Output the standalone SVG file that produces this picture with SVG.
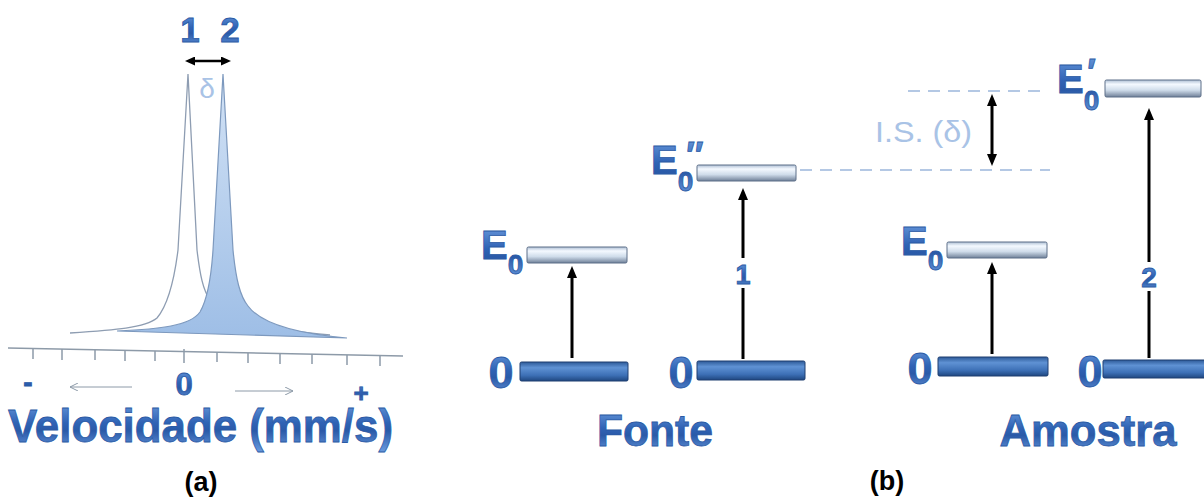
<svg xmlns="http://www.w3.org/2000/svg" width="1204" height="500" viewBox="0 0 1204 500">
<defs>
<linearGradient id="tg" x1="0" y1="0" x2="0" y2="1">
<stop offset="0" stop-color="#6f9fe0"/>
<stop offset="0.45" stop-color="#2f63b5"/>
<stop offset="0.6" stop-color="#2a5aa8"/>
<stop offset="1" stop-color="#6a9be0"/>
</linearGradient>
<linearGradient id="up" x1="0" y1="0" x2="0" y2="1">
<stop offset="0" stop-color="#aebfd4"/>
<stop offset="0.25" stop-color="#f4f9ff"/>
<stop offset="0.6" stop-color="#cfdcea"/>
<stop offset="1" stop-color="#6f8098"/>
</linearGradient>
<linearGradient id="dn" x1="0" y1="0" x2="0" y2="1">
<stop offset="0" stop-color="#2d5a98"/>
<stop offset="0.3" stop-color="#5f92d4"/>
<stop offset="0.7" stop-color="#3d70b6"/>
<stop offset="1" stop-color="#1f4780"/>
</linearGradient>
<linearGradient id="pk" x1="0" y1="0" x2="0" y2="1">
<stop offset="0" stop-color="#d2e2f5"/>
<stop offset="1" stop-color="#9ebee6"/>
</linearGradient>
<marker id="ah" viewBox="0 0 12 10" refX="2" refY="5" markerWidth="12" markerHeight="10" markerUnits="userSpaceOnUse" orient="auto-start-reverse">
<path d="M0,0 L12,5 L0,10 z" fill="#000"/>
</marker>
<marker id="ahs" viewBox="0 0 10 9" refX="2" refY="4.5" markerWidth="10" markerHeight="9" markerUnits="userSpaceOnUse" orient="auto-start-reverse">
<path d="M0,0 L10,4.5 L0,9 z" fill="#000"/>
</marker>
<marker id="open" viewBox="0 0 8 8" refX="8" refY="4" markerWidth="8" markerHeight="8" markerUnits="userSpaceOnUse" orient="auto">
<path d="M0,0 L8,4 L0,8" fill="none" stroke="#8d9aa8" stroke-width="1"/>
</marker>
</defs>
<style>
.bt{font-family:"Liberation Sans",Arial,sans-serif;font-weight:bold;fill:url(#tg);stroke:#2b5aa5;stroke-width:0.8}
.lt{font-family:"Liberation Sans",Arial,sans-serif;fill:#a9c3e6}
.bk{font-family:"Liberation Sans",Arial,sans-serif;font-weight:bold;fill:#000}
.up{fill:url(#up);stroke:#5c6e88;stroke-width:1}
.dn{fill:url(#dn);stroke:#1f3f70;stroke-width:1}
.ar{stroke:#000;stroke-width:3;fill:none}
.dash{stroke:#b4c8e4;stroke-width:2;stroke-dasharray:12 8;fill:none}
.tick{stroke:#8d9aa8;stroke-width:1.5}
.sub{font-size:28px}
.pr{font-size:36px;font-style:italic}
</style>
<rect width="1204" height="500" fill="#fff"/>

<g id="spectrum">
<path d="M70,333 C115,330 145,328 157,318 C168,305 174,282 178,250 L188,74 L197,250 C200,275 203,290 210,300 C225,320 270,330 330,335" fill="none" stroke="#8e9db2" stroke-width="1.3"/>
<path d="M117,331 C160,329 190,326 200,312 C207,300 211,280 213,250 L223,74 L233,250 C236,280 240,296 248,306 C262,325 300,334 347,338 Z" fill="url(#pk)" stroke="#7d99be" stroke-width="1.2"/>
<text class="bt" x="190" y="42" font-size="35" text-anchor="middle">1</text>
<text class="bt" x="230" y="42" font-size="35" text-anchor="middle">2</text>
<text class="lt" x="207" y="98" font-size="28" text-anchor="middle">δ</text>
</g>

<g id="axis">
<line x1="8" y1="348" x2="403" y2="356" stroke="#8d9aa8" stroke-width="1.5"/>
<line class="tick" x1="33" y1="349" x2="33" y2="359"/>
<line class="tick" x1="62" y1="349" x2="62" y2="360"/>
<line class="tick" x1="95" y1="350" x2="95" y2="360"/>
<line class="tick" x1="125" y1="350" x2="125" y2="361"/>
<line class="tick" x1="155" y1="351" x2="155" y2="361"/>
<line class="tick" x1="184" y1="349" x2="184" y2="363"/>
<line class="tick" x1="217" y1="352" x2="217" y2="362"/>
<line class="tick" x1="248" y1="353" x2="248" y2="363"/>
<line class="tick" x1="280" y1="353" x2="280" y2="364"/>
<line class="tick" x1="312" y1="354" x2="312" y2="364"/>
<line class="tick" x1="347" y1="355" x2="347" y2="365"/>
<line class="tick" x1="380" y1="355" x2="380" y2="366"/>
<text class="bt" x="28" y="392" font-size="28" text-anchor="middle">-</text>
<text class="bt" x="184" y="395" font-size="31" text-anchor="middle">0</text>
<text class="bt" x="361" y="402" font-size="26" text-anchor="middle">+</text>
<text class="bt" x="8" y="442" font-size="47" textLength="385" lengthAdjust="spacingAndGlyphs">Velocidade (mm/s)</text>
<text class="bk" x="201" y="491" font-size="27" text-anchor="middle">(a)</text>
</g>

<g id="fonte-E0">
<rect class="up" x="527" y="247" width="100" height="16" rx="1.5"/>
<text class="bt" x="481" y="259" font-size="40">E<tspan class="sub" dy="15">0</tspan></text>
</g>
<g id="fonte-E0pp">
<rect class="up" x="697" y="165" width="99" height="16" rx="1.5"/>
<text class="bt" x="651" y="174" font-size="40">E<tspan class="sub" dy="17">0</tspan><tspan class="pr" dx="-9" dy="-23">″</tspan></text>
</g>
<g id="fonte-0a">
<rect class="dn" x="520" y="362" width="108" height="19" rx="1.5"/>
<text class="bt" x="501" y="388" font-size="45" text-anchor="middle">0</text>
</g>
<g id="fonte-0b">
<rect class="dn" x="697" y="361" width="108" height="19" rx="1.5"/>
<text class="bt" x="681" y="388" font-size="45" text-anchor="middle">0</text>
</g>
<g id="amostra-E0">
<rect class="up" x="947" y="242" width="100" height="16" rx="1.5"/>
<text class="bt" x="901" y="255" font-size="40">E<tspan class="sub" dy="15">0</tspan></text>
</g>
<g id="amostra-E0p">
<rect class="up" x="1105" y="80" width="96" height="17" rx="1.5"/>
<text class="bt" x="1057" y="93" font-size="40">E<tspan class="sub" dy="17">0</tspan><tspan class="pr" dx="-14" dy="-25">′</tspan></text>
</g>
<g id="amostra-0a">
<rect class="dn" x="938" y="357" width="110" height="19" rx="1.5"/>
<text class="bt" x="920" y="384" font-size="45" text-anchor="middle">0</text>
</g>
<g id="amostra-0b">
<rect class="dn" x="1103" y="360" width="110" height="18" rx="1.5"/>
<text class="bt" x="1090" y="387" font-size="45" text-anchor="middle">0</text>
</g>

<g id="labels">
<text class="bt" x="655" y="446" font-size="44" text-anchor="middle" textLength="116" lengthAdjust="spacingAndGlyphs">Fonte</text>
<text class="bt" x="1088" y="446" font-size="44" text-anchor="middle" textLength="177" lengthAdjust="spacingAndGlyphs">Amostra</text>
<text class="lt" x="875" y="142" font-size="30" textLength="97" lengthAdjust="spacingAndGlyphs">I.S. (δ)</text>
<text class="bt" x="743" y="284" font-size="27" text-anchor="middle">1</text>
<text class="bt" x="1149" y="287" font-size="28" text-anchor="middle">2</text>
<text class="bk" x="887" y="490" font-size="27" text-anchor="middle">(b)</text>
</g>

<g id="connectors">
<line x1="193" y1="61" x2="223" y2="61" stroke="#000" stroke-width="2.5" marker-start="url(#ahs)" marker-end="url(#ahs)"/>
<line x1="132" y1="387" x2="70" y2="387" stroke="#8d9aa8" stroke-width="1" marker-end="url(#open)"/>
<line x1="235" y1="391" x2="293" y2="391" stroke="#8d9aa8" stroke-width="1" marker-end="url(#open)"/>
<line class="dash" x1="800" y1="170" x2="1050" y2="170"/>
<line class="dash" x1="908" y1="91" x2="1047" y2="91"/>
<line class="ar" x1="992" y1="104" x2="992" y2="156" marker-start="url(#ah)" marker-end="url(#ah)"/>
<line class="ar" x1="572" y1="358" x2="572" y2="276" marker-end="url(#ah)"/>
<line class="ar" x1="743" y1="258" x2="743" y2="198" marker-end="url(#ah)"/>
<line class="ar" x1="743" y1="359" x2="743" y2="288"/>
<line class="ar" x1="992" y1="354" x2="992" y2="272" marker-end="url(#ah)"/>
<line class="ar" x1="1149" y1="262" x2="1149" y2="118" marker-end="url(#ah)"/>
<line class="ar" x1="1149" y1="358" x2="1149" y2="291"/>
</g>
</svg>
